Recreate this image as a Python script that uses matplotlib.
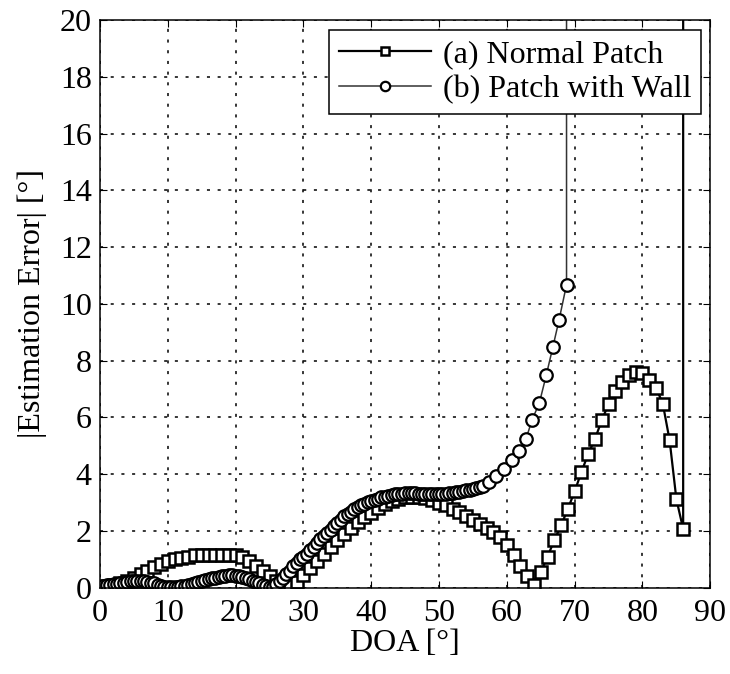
import numpy as np
import matplotlib
matplotlib.use("Agg")
import matplotlib.pyplot as plt

plt.rcParams['font.family'] = ['Liberation Serif', 'DejaVu Serif']

# (a) Normal Patch: DOA 0..86 deg, then jumps off the top at 86
doa_a = list(range(0, 87)) + [86]
err_a = [0.0, 0.05, 0.1, 0.17, 0.25, 0.35, 0.47, 0.6, 0.72, 0.83,
         0.93, 1.0, 1.06, 1.1, 1.14, 1.16, 1.17, 1.17, 1.17, 1.16,
         1.14, 1.07, 0.95, 0.78, 0.58, 0.4, 0.22, 0.1, 0.05, 0.2,
         0.45, 0.7, 0.95, 1.2, 1.45, 1.68, 1.9, 2.1, 2.3, 2.48,
         2.65, 2.8, 2.95, 3.05, 3.12, 3.18, 3.2, 3.2, 3.17, 3.1,
         3.0, 2.9, 2.78, 2.66, 2.54, 2.4, 2.26, 2.1, 1.95, 1.78,
         1.5, 1.17, 0.78, 0.4, 0.08, 0.55, 1.1, 1.67, 2.2, 2.78,
         3.4, 4.08, 4.72, 5.25, 5.9, 6.48, 6.95, 7.25, 7.5, 7.62,
         7.58, 7.32, 7.05, 6.48, 5.2, 3.12, 2.07, 30.0]

# (b) Patch with Wall: dense samples up to ~57 deg, then sparser, then jumps off at ~69
doa_b = [i * 0.5 for i in range(0, 114)] + [57.3, 58.4, 59.6, 60.7, 61.8, 62.8,
                                             63.7, 64.8, 65.8, 66.8, 67.7, 68.8, 68.8]
err_b = [0.0, 0.05, 0.08, 0.1, 0.12, 0.14, 0.16, 0.18, 0.2, 0.22,
         0.23, 0.24, 0.24, 0.23, 0.21, 0.18, 0.15, 0.11, 0.07, 0.04,
         0.02, 0.01, 0.02, 0.03, 0.05, 0.07, 0.1, 0.13, 0.16, 0.19,
         0.22, 0.26, 0.3, 0.33, 0.36, 0.39, 0.41, 0.43, 0.44, 0.44,
         0.43, 0.41, 0.38, 0.34, 0.3, 0.25, 0.2, 0.15, 0.1, 0.05,
         0.02, 0.04, 0.12, 0.22, 0.35, 0.48, 0.6, 0.75, 0.88, 1.0,
         1.1, 1.2, 1.32, 1.45, 1.58, 1.7, 1.82, 1.93, 2.05, 2.17,
         2.28, 2.4, 2.52, 2.6, 2.68, 2.76, 2.84, 2.9, 2.96, 3.01,
         3.05, 3.1, 3.14, 3.18, 3.21, 3.24, 3.27, 3.29, 3.31, 3.32,
         3.33, 3.33, 3.33, 3.33, 3.32, 3.32, 3.31, 3.31, 3.3, 3.3,
         3.3, 3.31, 3.32, 3.33, 3.35, 3.37, 3.39, 3.41, 3.43, 3.46,
         3.49, 3.52, 3.56, 3.6,
         3.72, 3.95, 4.18, 4.5, 4.82, 5.23, 5.9, 6.52, 7.48, 8.5,
         9.44, 10.68, 30.0]

labels = ['(a) Normal Patch', '(b) Patch with Wall']
xticks = list(range(0, 91, 10))
yticks = list(range(0, 21, 2))

fig = plt.figure(figsize=(7.3, 6.74), dpi=100)
ax = fig.add_axes([0.137, 0.128, 0.836, 0.842])

ax.plot(doa_a, err_a, color='black', lw=1.6, marker='s', ms=8.5,
        mfc='white', mec='black', mew=1.8, label=labels[0])
ax.plot(doa_b, err_b, color='#333333', lw=1.1, marker='o', ms=9,
        mfc='white', mec='black', mew=1.6, label=labels[1])

ax.set_xlim(0, 90)
ax.set_ylim(0, 20)
ax.set_xticks(xticks)
ax.set_yticks(yticks)
ax.grid(True, color='black', linestyle=(0, (2, 5)), lw=1.1)
ax.tick_params(direction='in', top=True, right=True, labelsize=23, length=5)
ax.tick_params(axis='x', pad=8)
ax.tick_params(axis='y', pad=6)
for s in ax.spines.values():
    s.set_linewidth(1.1)

ax.set_xlabel('DOA [°]', fontsize=23, labelpad=1)
ax.set_ylabel('|Estimation Error| [°]', fontsize=23, labelpad=9)

leg = ax.legend(loc='upper right', fontsize=23, handlelength=2.9,
                borderaxespad=0.3, fancybox=False, framealpha=1,
                edgecolor='black', borderpad=0.3, labelspacing=0.2,
                handletextpad=0.35, markerscale=0.75)
leg.get_frame().set_linewidth(1.1)

fig.savefig('out.png', dpi=100)
